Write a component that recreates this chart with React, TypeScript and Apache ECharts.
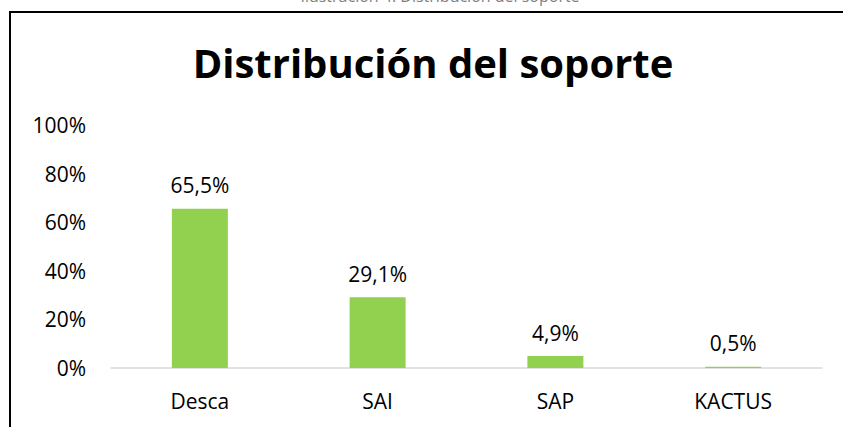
import React, { useEffect, useRef } from "react";
import * as echarts from "echarts";

const categories = ["Desca", "SAI", "SAP", "KACTUS"];
const values = [65.5, 29.1, 4.9, 0.5];
const yTicks = [0, 20, 40, 60, 80, 100];
const title = "Distribución del soporte";
const caption = "Ilustración 4. Distribución del soporte";

export default function App() {
  const ref = useRef<HTMLDivElement>(null);
  useEffect(() => {
    document.body.style.margin = "0";
    const chart = echarts.init(ref.current!, null, { renderer: "svg" });
    const font = "'Open Sans', sans-serif";
    chart.setOption({
      animation: false,
      backgroundColor: "#ffffff",
      title: {
        text: title,
        left: 428,
        textAlign: "center",
        top: 37,
        textStyle: { fontFamily: font, fontSize: 40, fontWeight: "bold", color: "#000" },
      },
      graphic: [
        {
          type: "text",
          x: 440,
          y: -12,
          style: {
            text: caption,
            fontFamily: font,
            fontSize: 16,
            fill: "#7f7f7f",
            textAlign: "center",
          },
        },
        { type: "line", shape: { x1: 9, y1: 12, x2: 843, y2: 12 }, style: { stroke: "#000", lineWidth: 2 } },
        { type: "line", shape: { x1: 10, y1: 12, x2: 10, y2: 427 }, style: { stroke: "#000", lineWidth: 2 } },
      ],
      grid: { left: 111, right: 21, top: 125, bottom: 59 },
      xAxis: {
        type: "category",
        data: categories,
        axisLine: { lineStyle: { color: "#d9d9d9", width: 1.5 } },
        axisTick: { show: false },
        axisLabel: { fontFamily: font, fontSize: 21, color: "#000", margin: 22 },
      },
      yAxis: {
        type: "value",
        min: yTicks[0],
        max: yTicks[yTicks.length - 1],
        interval: 20,
        splitLine: { show: false },
        axisLine: { show: false },
        axisTick: { show: false },
        axisLabel: {
          fontFamily: font,
          fontSize: 21,
          color: "#000",
          margin: 25,
          formatter: (v: number) => v + "%",
        },
      },
      series: [
        {
          type: "bar",
          data: values,
          barWidth: 56,
          itemStyle: { color: "#92d050" },
          label: {
            show: true,
            position: "top",
            distance: 13,
            fontFamily: font,
            fontSize: 21,
            color: "#000",
            formatter: (p: any) => p.value.toFixed(1).replace(".", ",") + "%",
          },
        },
      ],
    });
    return () => chart.dispose();
  }, []);
  return <div ref={ref} style={{ position: "absolute", left: 0, top: 0, width: 843, height: 427 }} />;
}
